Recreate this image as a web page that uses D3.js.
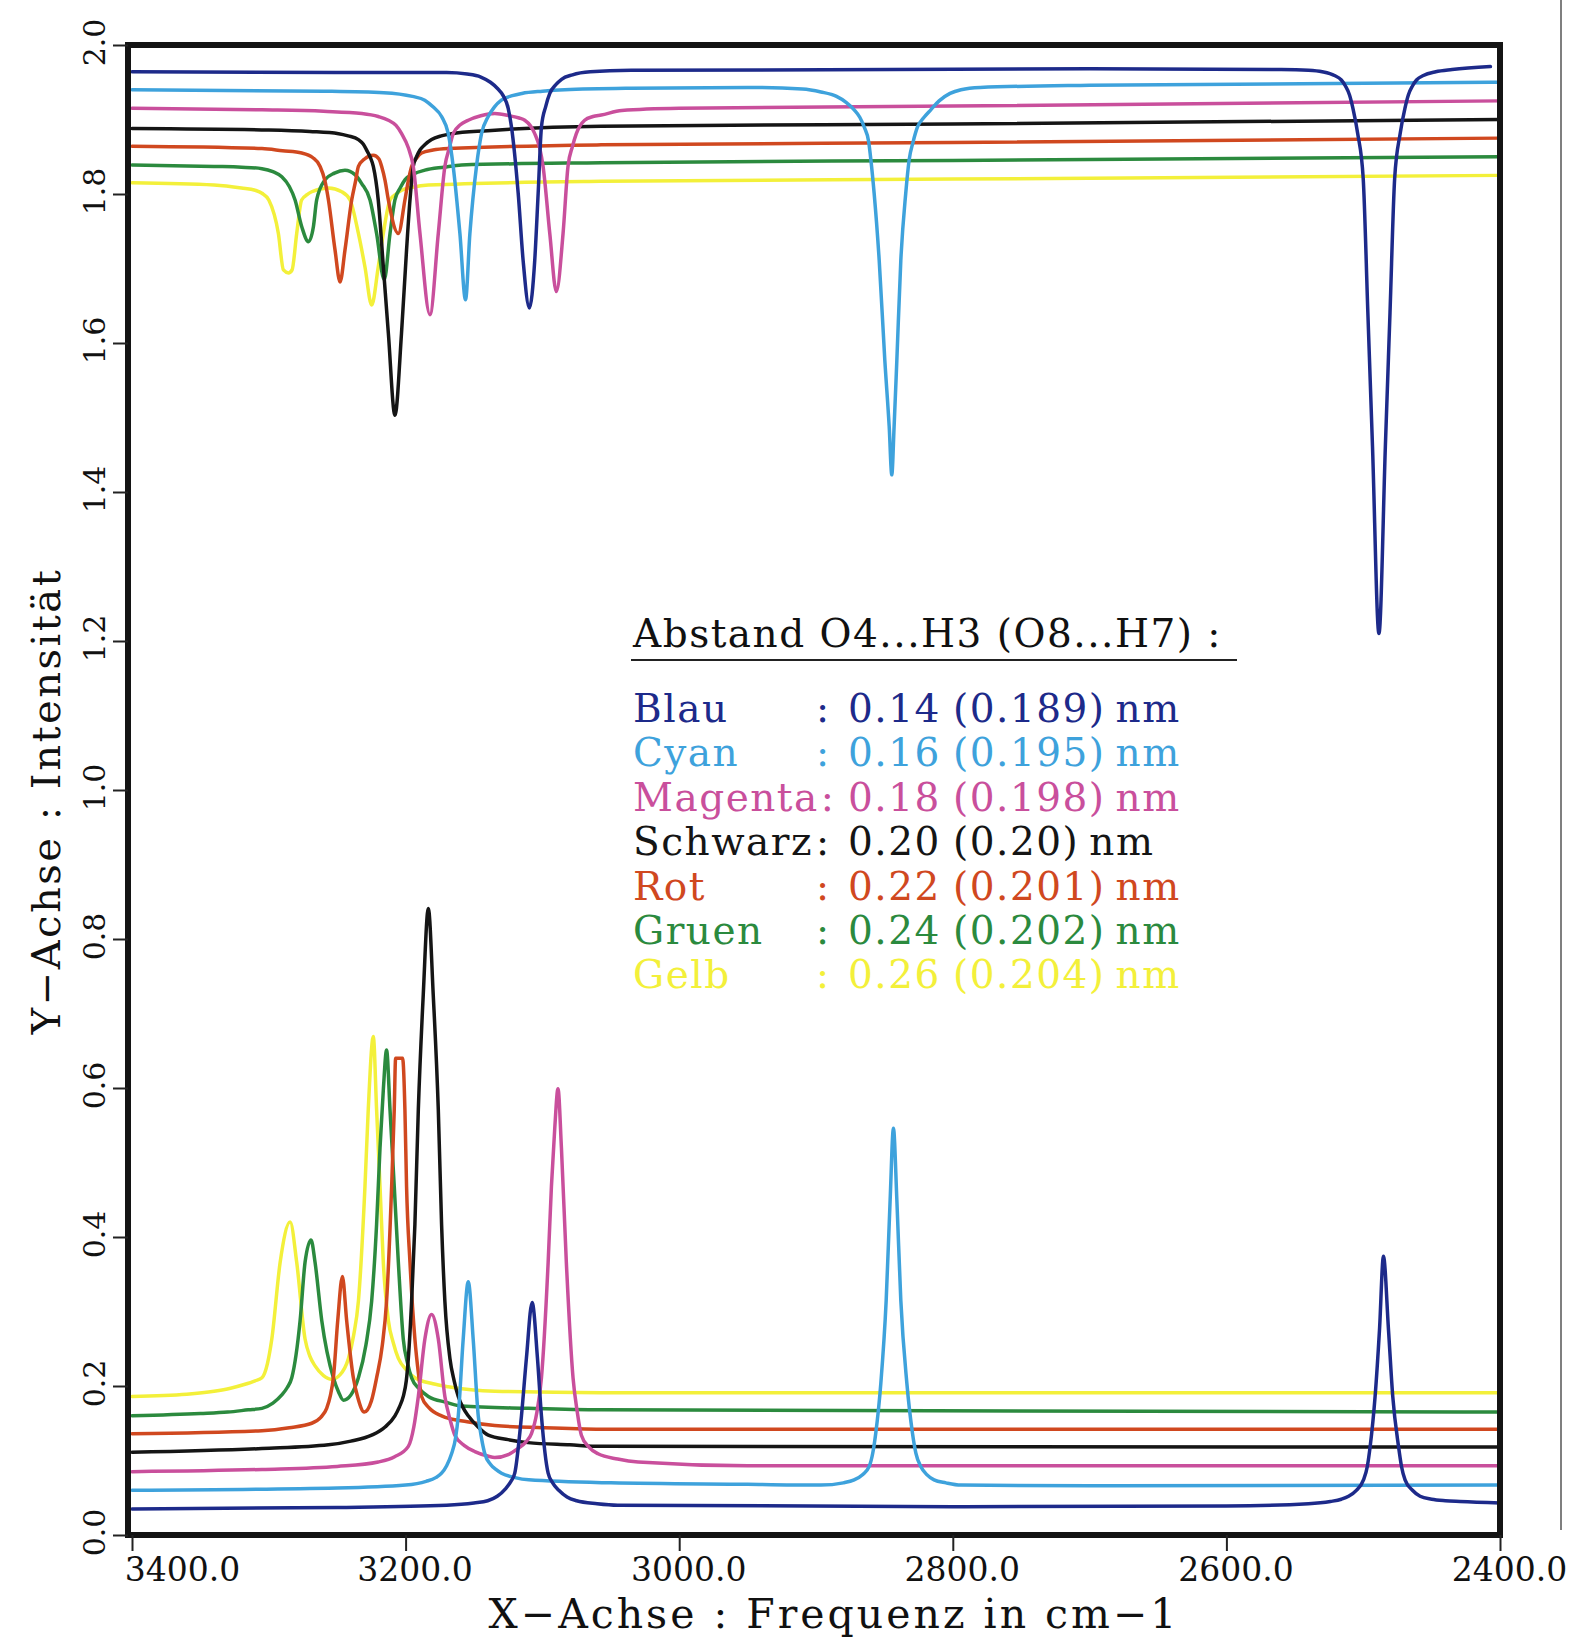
<!DOCTYPE html>
<html>
<head>
<meta charset="utf-8">
<script src="https://cdn.jsdelivr.net/npm/d3@7"></script>
<style>
  body { margin: 0; background: #fff; }
  svg { display: block; }
</style>
</head>
<body>
<svg id="spektrum"></svg>
<script>
// x-Achse: Frequenz in cm-1, y-Achse: Intensitaet
const xTicks = [3400, 3200, 3000, 2800, 2600, 2400];
const yTicks = [0, 0.2, 0.4, 0.6, 0.8, 1.0, 1.2, 1.4, 1.6, 1.8, 2.0];

// obere Kurven (Transmission)
const blauOben = [[3400,1.964],[3250,1.963],[3170,1.963],[3155,1.961],[3145,1.957],[3138,1.950],[3133,1.942],[3128.7,1.932],[3125,1.915],[3122.6,1.890],[3117.7,1.801],[3114.1,1.711],[3109.5,1.647],[3105.6,1.711],[3103.1,1.801],[3100.7,1.890],[3097.5,1.918],[3094.6,1.935],[3090,1.947],[3086,1.954],[3078,1.960],[3065,1.964],[3035,1.966],[2700,1.968],[2560,1.967],[2540,1.966],[2530,1.964],[2521,1.959],[2516,1.953],[2513,1.945],[2510,1.933],[2507.5,1.915],[2504,1.881],[2500,1.821],[2496.6,1.641],[2493.2,1.461],[2488.5,1.210],[2483.8,1.461],[2480.4,1.641],[2477,1.821],[2473,1.881],[2469.5,1.915],[2467,1.933],[2464,1.945],[2461,1.953],[2456,1.959],[2447,1.964],[2435,1.967],[2407,1.971]];
const cyanOben = [[3400,1.940],[3260,1.938],[3216,1.936],[3195,1.931],[3186,1.926],[3180,1.917],[3173.7,1.904],[3168.8,1.881],[3165.2,1.837],[3160.3,1.747],[3156.2,1.658],[3153,1.747],[3148.2,1.837],[3144.5,1.881],[3139.6,1.904],[3135,1.917],[3130,1.926],[3122,1.932],[3115,1.935],[3100,1.938],[3083.7,1.940],[3035,1.942],[2950,1.943],[2910,1.941],[2896.4,1.937],[2885,1.931],[2878,1.923],[2872.1,1.913],[2868,1.903],[2864.8,1.890],[2861.5,1.870],[2859.9,1.846],[2857.5,1.801],[2853.8,1.711],[2849.7,1.577],[2846.5,1.488],[2844.6,1.423],[2842.9,1.488],[2840.9,1.577],[2838,1.711],[2834.4,1.801],[2831.9,1.846],[2829,1.870],[2825.8,1.890],[2821,1.903],[2816.1,1.913],[2810,1.925],[2802,1.935],[2794,1.940],[2780,1.943],[2700,1.946],[2400,1.950]];
const magentaOben = [[3400,1.915],[3305,1.913],[3260,1.911],[3232,1.908],[3220,1.904],[3212.6,1.899],[3207,1.892],[3202.9,1.881],[3198,1.862],[3194.4,1.837],[3189.5,1.747],[3182.2,1.638],[3176.1,1.747],[3171.3,1.837],[3168,1.862],[3165.2,1.881],[3160,1.893],[3154.2,1.899],[3145,1.905],[3134.8,1.908],[3124,1.905],[3117,1.902],[3112.9,1.899],[3108.5,1.891],[3105.6,1.881],[3102,1.862],[3099.5,1.837],[3094.6,1.747],[3089.8,1.669],[3084.9,1.747],[3081.3,1.837],[3078,1.864],[3075.2,1.881],[3069.1,1.899],[3063,1.904],[3057,1.906],[3042,1.912],[3000,1.915],[2800,1.918],[2400,1.925]];
const schwarzOben = [[3400,1.888],[3300,1.886],[3270,1.884],[3249,1.881],[3242,1.878],[3234.5,1.873],[3231,1.867],[3228.5,1.859],[3226,1.850],[3223.6,1.837],[3220,1.792],[3216.3,1.703],[3212.6,1.613],[3207.8,1.503],[3203,1.613],[3199.3,1.725],[3196.8,1.792],[3194.4,1.837],[3192,1.850],[3189.5,1.859],[3186,1.866],[3181,1.873],[3174,1.878],[3166.4,1.881],[3140,1.885],[3057,1.891],[2800,1.894],[2400,1.900]];
const rotOben = [[3400,1.864],[3305,1.861],[3290,1.858],[3275.9,1.855],[3268,1.849],[3262.5,1.837],[3259,1.818],[3256.4,1.792],[3251.6,1.725],[3247.9,1.682],[3244.3,1.725],[3239.4,1.792],[3236.5,1.818],[3234.5,1.837],[3230,1.847],[3223.6,1.852],[3219.5,1.847],[3217.5,1.837],[3215,1.818],[3212.6,1.792],[3205.3,1.747],[3200.5,1.792],[3198,1.818],[3195.6,1.837],[3192,1.848],[3188.3,1.855],[3180,1.859],[3168.8,1.861],[3057,1.866],[2800,1.869],[2400,1.875]];
const gruenOben = [[3400,1.839],[3340,1.837],[3320,1.836],[3305,1.834],[3297,1.830],[3290.5,1.823],[3285,1.810],[3280.8,1.792],[3275.9,1.756],[3271,1.736],[3267.4,1.756],[3265,1.792],[3258.9,1.819],[3252,1.828],[3244.3,1.832],[3237,1.826],[3232.1,1.814],[3226,1.792],[3221.2,1.747],[3215.6,1.685],[3211.4,1.747],[3207.8,1.792],[3204,1.808],[3200.5,1.819],[3194,1.827],[3185.9,1.832],[3172,1.836],[3159.1,1.839],[3057,1.842],[2800,1.845],[2400,1.850]];
const gelbOben = [[3400,1.815],[3340,1.812],[3320,1.808],[3310,1.805],[3305,1.801],[3300,1.792],[3293,1.747],[3289.3,1.698],[3285.6,1.694],[3283,1.698],[3279.6,1.747],[3276,1.792],[3272,1.799],[3268.6,1.803],[3256.4,1.808],[3246.7,1.803],[3240.6,1.792],[3234.5,1.747],[3229.7,1.702],[3224.8,1.651],[3220,1.702],[3216.3,1.747],[3211.4,1.792],[3207,1.800],[3202.9,1.805],[3195,1.809],[3183.4,1.812],[3057,1.817],[2800,1.820],[2400,1.825]];

// untere Kurven (Absorption)
const blauUnten = [[3400,0.035],[3250,0.037],[3170,0.040],[3150,0.043],[3140,0.046],[3133,0.052],[3127,0.062],[3123,0.072],[3120.2,0.083],[3115.3,0.160],[3111.7,0.237],[3107.5,0.312],[3103.6,0.237],[3100.7,0.160],[3095.8,0.083],[3092.5,0.070],[3088,0.060],[3082,0.051],[3075,0.046],[3060,0.042],[3045,0.040],[2800,0.038],[2600,0.039],[2540,0.042],[2524,0.045],[2516,0.048],[2510.7,0.052],[2505,0.060],[2499.8,0.074],[2497,0.092],[2494.9,0.119],[2491.3,0.186],[2488.1,0.275],[2485.2,0.374],[2481.5,0.275],[2478.4,0.186],[2474.2,0.119],[2472,0.092],[2469.4,0.074],[2464,0.060],[2458.4,0.052],[2450,0.048],[2440,0.046],[2429.2,0.045],[2400,0.043]];
const cyanUnten = [[3400,0.060],[3250,0.063],[3200,0.067],[3185,0.072],[3178,0.077],[3173.7,0.083],[3170,0.093],[3166.4,0.109],[3163.5,0.130],[3161.5,0.160],[3157.9,0.263],[3154.2,0.340],[3150.6,0.263],[3146.9,0.160],[3144.5,0.130],[3142.1,0.109],[3138,0.095],[3134,0.088],[3129.9,0.083],[3120,0.077],[3110,0.074],[3050,0.070],[2950,0.068],[2896.4,0.067],[2880,0.070],[2872.1,0.074],[2866,0.081],[2861.1,0.092],[2858.5,0.110],[2856.3,0.137],[2852.6,0.204],[2848.7,0.315],[2845.8,0.450],[2843.4,0.546],[2840.9,0.450],[2838,0.315],[2833.6,0.204],[2829.5,0.137],[2827,0.110],[2823.4,0.092],[2819,0.081],[2813.7,0.074],[2805,0.070],[2794.2,0.067],[2700,0.066],[2400,0.067]];
const magentaUnten = [[3400,0.085],[3305,0.088],[3250,0.092],[3220,0.098],[3208,0.105],[3198,0.119],[3194,0.145],[3190.7,0.186],[3185.9,0.263],[3181,0.296],[3176.1,0.263],[3171.3,0.186],[3167.5,0.155],[3164,0.134],[3157,0.120],[3149.4,0.112],[3140,0.106],[3134.8,0.104],[3125,0.108],[3118,0.116],[3112,0.125],[3108,0.136],[3104,0.165],[3100.7,0.211],[3095.8,0.366],[3093.4,0.468],[3091,0.545],[3088.6,0.599],[3086.1,0.520],[3082.5,0.366],[3077.6,0.211],[3074.5,0.165],[3071.5,0.134],[3066,0.118],[3059.3,0.109],[3045,0.102],[3030,0.098],[2950,0.093],[2400,0.093]];
const schwarzUnten = [[3400,0.111],[3305,0.116],[3256.4,0.121],[3240,0.126],[3224.8,0.134],[3215,0.145],[3207.8,0.160],[3204.5,0.172],[3201.7,0.186],[3199.5,0.207],[3198,0.237],[3195.6,0.314],[3193.2,0.417],[3190.7,0.571],[3187.1,0.725],[3183.4,0.841],[3179.8,0.725],[3176.1,0.571],[3173.7,0.417],[3171.3,0.314],[3167.6,0.237],[3164.5,0.207],[3161.5,0.186],[3158,0.171],[3154.2,0.160],[3147,0.145],[3139.6,0.134],[3125,0.128],[3110.5,0.124],[3080,0.121],[3057,0.119],[2400,0.118]];
const rotUnten = [[3400,0.136],[3305,0.140],[3285,0.144],[3268.6,0.150],[3262,0.158],[3257.7,0.170],[3255,0.187],[3252.8,0.211],[3249.6,0.288],[3246.2,0.347],[3243.1,0.288],[3238.2,0.211],[3235,0.185],[3230.2,0.165],[3225,0.180],[3221.2,0.211],[3217,0.255],[3213.9,0.314],[3210.2,0.468],[3208.3,0.571],[3207.3,0.640],[3202.2,0.640],[3200.5,0.571],[3199.3,0.468],[3196.8,0.366],[3193.2,0.263],[3190.5,0.215],[3188.3,0.186],[3183,0.171],[3173.7,0.160],[3155,0.152],[3134.8,0.147],[3100,0.144],[3057,0.142],[2400,0.142]];
const gruenUnten = [[3400,0.160],[3350,0.163],[3330,0.165],[3315,0.168],[3305,0.170],[3297,0.177],[3290.5,0.188],[3286.5,0.198],[3283.2,0.211],[3277.1,0.288],[3273.5,0.366],[3269.1,0.396],[3266.2,0.366],[3261.3,0.288],[3252.8,0.211],[3249,0.192],[3245.5,0.181],[3240,0.188],[3234.5,0.211],[3229,0.255],[3224.8,0.314],[3221.2,0.417],[3218.7,0.520],[3216.3,0.597],[3213.9,0.651],[3211.4,0.571],[3208.3,0.468],[3205.3,0.366],[3201.7,0.263],[3198.5,0.230],[3195.6,0.211],[3190,0.196],[3183.4,0.186],[3170,0.178],[3159.1,0.173],[3110,0.170],[3057,0.168],[2400,0.165]];
const gelbUnten = [[3400,0.186],[3360,0.189],[3340,0.193],[3328,0.197],[3318,0.202],[3310,0.207],[3305,0.211],[3301,0.230],[3297.8,0.263],[3291.7,0.366],[3284.4,0.420],[3279.6,0.366],[3273.5,0.263],[3270,0.240],[3266.2,0.227],[3260,0.214],[3254,0.209],[3248,0.215],[3241.8,0.237],[3238,0.268],[3234.5,0.314],[3229.7,0.468],[3227.3,0.571],[3223.6,0.669],[3221.2,0.571],[3218.7,0.468],[3216.3,0.366],[3212.6,0.288],[3209,0.258],[3205.3,0.237],[3199,0.221],[3193.2,0.211],[3180,0.203],[3168.8,0.199],[3134.8,0.193],[3057,0.191],[2400,0.191]];

// Legende
const namen = ["Blau", "Cyan", "Magenta", "Schwarz", "Rot", "Gruen", "Gelb"];
const abstand = ["0.14", "0.16", "0.18", "0.20", "0.22", "0.24", "0.26"];
const abstandKlammer = ["0.189", "0.195", "0.198", "0.20", "0.201", "0.202", "0.204"];
const farben = ["#1d2a8a", "#3ea2dc", "#c94f9c", "#151515", "#d0481f", "#2b8a3e", "#f3f03a"];

const kurven = [
  [blauOben, blauUnten], [cyanOben, cyanUnten], [magentaOben, magentaUnten],
  [schwarzOben, schwarzUnten], [rotOben, rotUnten], [gruenOben, gruenUnten], [gelbOben, gelbUnten]
];

const W = 1574, H = 1642;
const serif = "'DejaVu Serif', serif";

const svg = d3.select("#spektrum").attr("width", W).attr("height", H);
svg.append("rect").attr("width", W).attr("height", H).attr("fill", "#fff");

const x = d3.scaleLinear().domain([3400, 2400]).range([132, 1500]);
const y = d3.scaleLinear().domain([0, 2]).range([1535, 45]);

const line = d3.line()
  .x((d) => x(d[0]))
  .y((d) => y(d[1]))
  .curve(d3.curveMonotoneX);

// Kurven, Blau zuletzt (oben)
const kurvenG = svg.append("g").attr("fill", "none").attr("stroke-width", 3.5)
  .attr("stroke-linejoin", "round").attr("stroke-linecap", "round");
for (let i = kurven.length - 1; i >= 0; i--) {
  kurven[i].forEach((daten) => {
    kurvenG.append("path").attr("d", line(daten)).attr("stroke", farben[i]);
  });
}

// Rahmen
svg.append("rect")
  .attr("x", 128).attr("y", 45)
  .attr("width", 1500 - 128).attr("height", 1535 - 45)
  .attr("fill", "none").attr("stroke", "#141414").attr("stroke-width", 6);

// x-Achse
svg.append("g")
  .attr("transform", `translate(0,${y(0)})`)
  .call(d3.axisBottom(x).tickValues(xTicks).tickSize(16).tickFormat(d3.format(".1f")))
  .call((g) => g.select(".domain").remove())
  .call((g) => g.selectAll(".tick line").attr("stroke", "#222").attr("stroke-width", 2))
  .call((g) => g.selectAll(".tick text")
    .attr("y", 46).attr("dy", 0)
    .attr("dx", (d, i) => (i === 0 ? 50 : 9))
    .attr("fill", "#111")
    .style("font-family", serif).style("font-size", "33px"));

// y-Achse
svg.append("g")
  .attr("transform", `translate(128,0)`)
  .call(d3.axisLeft(y).tickValues(yTicks).tickSize(15).tickFormat(d3.format(".1f")))
  .call((g) => g.select(".domain").remove())
  .call((g) => g.selectAll(".tick line").attr("stroke", "#222").attr("stroke-width", 2))
  .call((g) => g.selectAll(".tick text")
    .attr("x", 0).attr("dy", 0)
    .attr("transform", "translate(-23,-3) rotate(-90)")
    .attr("text-anchor", "middle")
    .attr("fill", "#111")
    .style("font-family", serif).style("font-size", "30px"));

// Achsentitel
svg.append("text")
  .attr("x", 834).attr("y", 1628)
  .attr("text-anchor", "middle")
  .style("font-family", serif).style("font-size", "41px").style("letter-spacing", "3px")
  .attr("fill", "#111")
  .text("X\u2212Achse : Frequenz in cm\u22121");

svg.append("text")
  .attr("transform", "translate(60,801) rotate(-90)")
  .attr("text-anchor", "middle")
  .style("font-family", serif).style("font-size", "40px").style("letter-spacing", "2.5px")
  .attr("fill", "#111")
  .text("Y\u2212Achse : Intensität");

// Legende
const leg = svg.append("g")
  .style("font-family", serif).style("font-size", "39px").style("letter-spacing", "1.5px");

leg.append("text").attr("x", 633).attr("y", 647).attr("fill", "#111")
  .text("Abstand O4...H3 (O8...H7) :");
leg.append("line")
  .attr("x1", 631).attr("x2", 1237).attr("y1", 660).attr("y2", 660)
  .attr("stroke", "#222").attr("stroke-width", 2);

namen.forEach((name, i) => {
  const zeileY = 722 + i * 44.4;
  const t = leg.append("text").attr("y", zeileY).attr("fill", farben[i]);
  const n = t.append("tspan").attr("x", 633).text(name);
  const nameEnde = 633 + n.node().getComputedTextLength();
  t.append("tspan").attr("x", Math.max(816, nameEnde + 2)).text(":");
  t.append("tspan").attr("x", 848).text(abstand[i]);
  t.append("tspan").attr("x", 953).text("(" + abstandKlammer[i] + ")");
  t.append("tspan").attr("dx", 10).text("nm");
});

// Blattkante vom Scan
svg.append("line")
  .attr("x1", 1561).attr("x2", 1561).attr("y1", 0).attr("y2", 1530)
  .attr("stroke", "#555").attr("stroke-width", 1.5);
</script>
</body>
</html>
